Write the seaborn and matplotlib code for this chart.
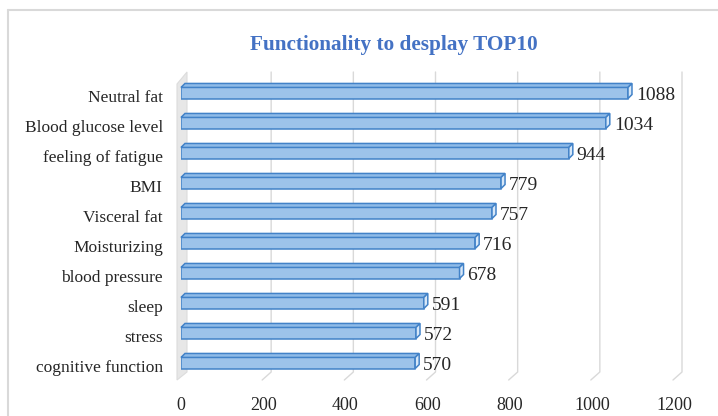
import matplotlib
matplotlib.use("Agg")
import matplotlib.pyplot as plt
import matplotlib.transforms as mtrans
import seaborn as sns
import pandas as pd
from matplotlib.patches import Polygon
from matplotlib.lines import Line2D

categories = ["Neutral fat", "Blood glucose level", "feeling of fatigue", "BMI",
              "Visceral fat", "Moisturizing", "blood pressure", "sleep", "stress",
              "cognitive function"]
values = [1088, 1034, 944, 779, 757, 716, 678, 591, 572, 570]
x_ticks = [0, 200, 400, 600, 800, 1000, 1200]
title = "Functionality to desplay TOP10"

sns.set_theme(style="white")
plt.rcParams["font.family"] = ["Liberation Serif", "DejaVu Serif"]

W, H = 718, 416
fig = plt.figure(figsize=(W / 100, H / 100), dpi=100)
fig.patch.set_facecolor("white")

# chart area border (light gray, top & left visible)
fig.add_artist(Line2D([8 / W, 8 / W], [0, 1 - 10 / H], transform=fig.transFigure,
                      color="#d9d9d9", lw=1.5))
fig.add_artist(Line2D([8 / W, 1], [1 - 10 / H, 1 - 10 / H], transform=fig.transFigure,
                      color="#d9d9d9", lw=1.5))

ax_l, ax_r, ax_t, ax_b = 181, 674, 78, 378
ax = fig.add_axes([ax_l / W, 1 - ax_b / H, (ax_r - ax_l) / W, (ax_b - ax_t) / H])
ax.set_facecolor("none")

df = pd.DataFrame({"feature": categories, "count": values})
sns.barplot(data=df, x="count", y="feature", orient="h", ax=ax,
            color="#9dc3ea", width=0.37, saturation=1, edgecolor="#4282c8",
            linewidth=1.1, zorder=3)

ax.set_xlim(0, 1200)
ax.set_ylim(len(categories) - 0.5, -0.5)
ax.set_xticks(x_ticks)
ax.set_xticklabels([str(t) for t in x_ticks])
ax.set_xlabel("")
ax.set_ylabel("")
for s in ax.spines.values():
    s.set_visible(False)
ax.tick_params(axis="x", length=0, pad=14, labelsize=13, colors="#262626")
ax.tick_params(axis="y", length=0, pad=13, labelsize=12.5, colors="#262626")
shift = mtrans.ScaledTranslation(0, -3 / 100, fig.dpi_scale_trans)
for lab in ax.get_yticklabels():
    lab.set_transform(lab.get_transform() + shift)

fig.text(394 / W, 1 - 45 / H, title, ha="center", va="center", fontsize=15.3,
         fontweight="bold", color="#4472c4")

fig.canvas.draw()
T = ax.transData
ident = mtrans.IdentityTransform()

# 3D depth (pixels; display y up)
ddx, ddy = 9, 8
y_top_disp = H - 72
y_bot_disp = H - 372

# back-wall gridlines with floor slant
for t in x_ticks[1:]:
    xf = T.transform((t, 0))[0]
    ax.add_line(Line2D([xf - 1, xf + 8, xf + 8], [y_bot_disp - ddy, y_bot_disp, y_top_disp],
                       transform=ident, color="#d9d9d9", lw=1.0, zorder=1, clip_on=False))

# left side wall
x0 = T.transform((0, 0))[0]
wall = Polygon([(x0 - 4, y_bot_disp - ddy), (x0 + 6, y_bot_disp), (x0 + 6, y_top_disp),
                (x0 - 4, y_top_disp - 12)],
               closed=True, transform=ident, facecolor="#e7e7e7", edgecolor="#dcdcdc",
               lw=0.8, zorder=1, clip_on=False)
ax.add_patch(wall)

# 3D top and end faces for each bar
bdx, bdy = 4, 4
for p, v in zip(ax.patches[:len(values)], values):
    x, y = p.get_x(), p.get_y()
    w, h = p.get_width(), p.get_height()
    (xa, ya) = T.transform((x, y))
    (xb, yb) = T.transform((x + w, y + h))
    ytop, ybot = max(ya, yb), min(ya, yb)
    top = Polygon([(xa, ytop), (xb, ytop), (xb + bdx, ytop + bdy), (xa + bdx, ytop + bdy)],
                  closed=True, transform=ident, facecolor="#8fbbe8", edgecolor="#4282c8",
                  lw=1.1, zorder=4, clip_on=False)
    end = Polygon([(xb, ytop), (xb + bdx, ytop + bdy), (xb + bdx, ybot + bdy), (xb, ybot)],
                  closed=True, transform=ident, facecolor="#d6e7f8", edgecolor="#4282c8",
                  lw=1.1, zorder=4, clip_on=False)
    ax.add_patch(top)
    ax.add_patch(end)
    ax.text(xb + bdx + 4, (ytop + ybot) / 2 - 2, f"{v}", transform=ident,
            ha="left", va="center", fontsize=14, color="#262626", zorder=5)

fig.savefig("out.png", dpi=100, facecolor="white")
